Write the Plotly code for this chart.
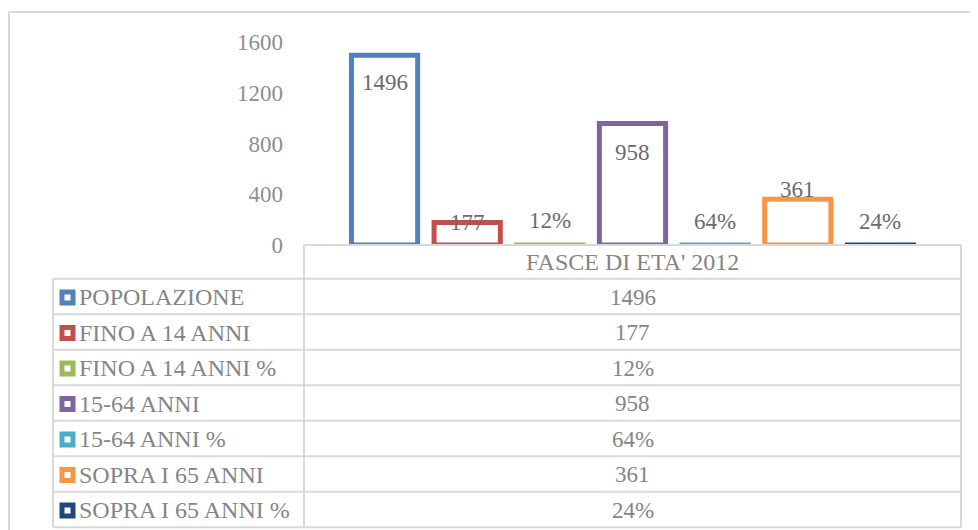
import plotly.graph_objects as go

# data
category = "FASCE DI ETA' 2012"
series_names = ['POPOLAZIONE', 'FINO A 14 ANNI', 'FINO A 14 ANNI %', '15-64 ANNI',
                '15-64 ANNI %', 'SOPRA I 65 ANNI', 'SOPRA I 65 ANNI %']
series_values = [1496, 177, 0.12, 958, 0.64, 361, 0.24]
value_labels = ['1496', '177', '12%', '958', '64%', '361', '24%']
y_ticks = [0, 400, 800, 1200, 1600]

# styling
colors = ['#4F81BD', '#C0504D', '#9BBB59', '#8064A2', '#4BACC6', '#F79646', '#1F497D']
label_shift = [-27, 0, 24, -29, 23, 10, 23]  # Excel label placement, pixels
W, H = 978, 530
OFF = 8  # default page body margin, layout below is in window pixels
FONT = '"Liberation Serif", "Times New Roman", serif'
GRID = '#d9d9d9'


def px(x):
    return (x - OFF) / W


def py(y):
    return 1 - (y - OFF) / H


# plot area and table geometry in window pixels
plot_l, plot_r, base_y, top_y = 304, 961, 245, 42
tab_l, row0, row_h = 53, 278.7, 35.5

n = len(series_values)
slot = 0.1258
bar_w = 0.1008
start = -slot * n / 2

fig = go.Figure()
for i, (name, val) in enumerate(zip(series_names, series_values)):
    fig.add_trace(go.Bar(
        x=[0], y=[val], name=name,
        width=bar_w, offset=start + i * slot + (slot - bar_w) / 2,
        marker=dict(color='rgba(0,0,0,0)', line=dict(color=colors[i], width=5)),
        hoverinfo='name+y', showlegend=False,
    ))
    fig.add_annotation(
        x=start + i * slot + slot / 2, y=val, xref='x', yref='y',
        text=value_labels[i], showarrow=False, yanchor='middle',
        yshift=label_shift[i], font=dict(family=FONT, size=23, color='#6b6b6b'),
    )

shapes = []
line = dict(color=GRID, width=2)
# outer chart border (top and left visible)
shapes.append(dict(type='line', xref='paper', yref='paper', x0=px(9), x1=px(990), y0=py(12), y1=py(12), line=line))
shapes.append(dict(type='line', xref='paper', yref='paper', x0=px(9), x1=px(9), y0=py(12), y1=py(540), line=line))
# header cell of the data table
bottom = row0 + row_h * n
shapes.append(dict(type='line', xref='paper', yref='paper', x0=px(plot_l), x1=px(plot_r), y0=py(base_y), y1=py(base_y), line=line))
shapes.append(dict(type='line', xref='paper', yref='paper', x0=px(plot_l), x1=px(plot_l), y0=py(base_y), y1=py(bottom), line=line))
shapes.append(dict(type='line', xref='paper', yref='paper', x0=px(plot_r), x1=px(plot_r), y0=py(base_y), y1=py(bottom), line=line))
shapes.append(dict(type='line', xref='paper', yref='paper', x0=px(tab_l), x1=px(tab_l), y0=py(row0), y1=py(bottom), line=line))
for r in range(n + 1):
    yy = row0 + r * row_h
    shapes.append(dict(type='line', xref='paper', yref='paper', x0=px(tab_l), x1=px(plot_r), y0=py(yy), y1=py(yy), line=line))

label_font = dict(family=FONT, size=24, color='#858585')
num_font = dict(family=FONT, size=23, color='#858585')
fig.add_annotation(x=px((plot_l + plot_r) / 2), y=py((base_y + row0) / 2), xref='paper', yref='paper',
                   text=category, showarrow=False, font=label_font, yanchor='middle')
for i, name in enumerate(series_names):
    cy = row0 + row_h * (i + 0.5) + 1
    # legend key: coloured square with a white centre
    shapes.append(dict(type='rect', xref='paper', yref='paper',
                       x0=px(62), x1=px(73), y0=py(cy - 5.5), y1=py(cy + 5.5),
                       fillcolor='white', line=dict(color=colors[i], width=5)))
    fig.add_annotation(x=px(77), y=py(cy), xref='paper', yref='paper', text=name,
                       showarrow=False, xanchor='left', yanchor='middle', font=label_font)
    fig.add_annotation(x=px((plot_l + plot_r) / 2), y=py(cy), xref='paper', yref='paper',
                       text=value_labels[i], showarrow=False, yanchor='middle', font=num_font)

fig.update_layout(
    width=W, height=H,
    margin=dict(l=0, r=0, t=0, b=0, autoexpand=False),
    paper_bgcolor='white', plot_bgcolor='white',
    barmode='overlay',
    shapes=shapes,
    xaxis=dict(domain=[px(plot_l), px(plot_r)], range=[-0.5, 0.5], visible=False, fixedrange=True),
    yaxis=dict(domain=[py(base_y), py(top_y)], range=[0, 1600], tickvals=y_ticks,
               ticktext=[str(t) for t in y_ticks], showgrid=False, zeroline=False,
               showline=False, ticks='', ticklabelstandoff=20,
               tickfont=dict(family=FONT, size=23, color='#8e8e8e'), fixedrange=True),
    font=dict(family=FONT),
)

fig.write_html("out.html")
